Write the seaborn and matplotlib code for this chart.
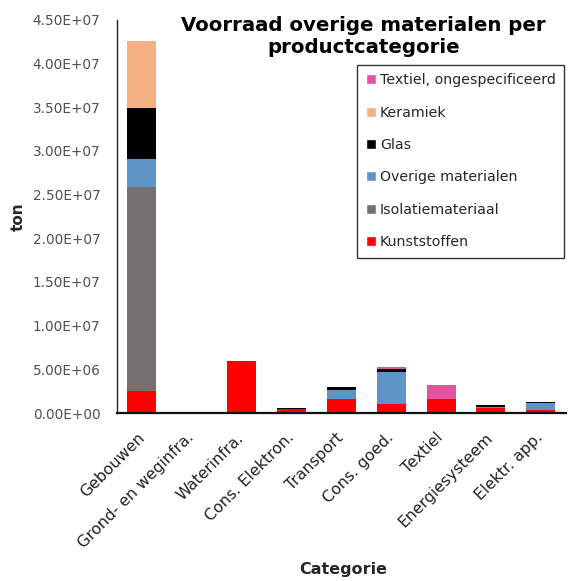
import numpy as np
import pandas as pd
import seaborn as sns
import matplotlib.pyplot as plt
from matplotlib.patches import Patch
from matplotlib.ticker import FuncFormatter

categories = ["Gebouwen", "Grond- en weginfra.", "Waterinfra.", "Cons. Elektron.",
              "Transport", "Cons. goed.", "Textiel", "Energiesysteem", "Elektr. app."]

# stacked layers, bottom to top (ton)
kunststoffen = [2.52e6, 0.0, 5.95e6, 0.45e6, 1.60e6, 1.03e6, 1.56e6, 0.62e6, 0.30e6]
isolatie = [2.34e7, 0.0, 0.0, 0.0, 0.0, 0.0, 0.0, 0.0, 0.0]
overige = [3.2e6, 0.18e6, 0.0, 0.0, 1.07e6, 3.67e6, 0.0, 0.10e6, 0.90e6]
glas = [5.8e6, 0.0, 0.0, 0.10e6, 0.30e6, 0.34e6, 0.0, 0.15e6, 0.08e6]
keramiek = [7.6e6, 0.0, 0.0, 0.0, 0.0, 0.0, 0.0, 0.0, 0.0]
textiel = [0.0, 0.0, 0.0, 0.0, 0.0, 0.18e6, 1.68e6, 0.0, 0.0]

layer_names = ["Kunststoffen", "Isolatiemateriaal", "Overige materialen",
               "Glas", "Keramiek", "Textiel, ongespecificeerd"]
layer_values = [kunststoffen, isolatie, overige, glas, keramiek, textiel]
layer_colors = ["#FF0000", "#767171", "#5E95C9", "#000000", "#F4B183", "#E4539E"]

sns.set_style("white")
plt.rcParams['font.family'] = ['DejaVu Sans']

fig = plt.figure(figsize=(5.68, 5.81), dpi=100)
ax = fig.add_axes([0.206, 0.289, 0.79, 0.677])

# draw cumulative totals from the top layer down so each layer shows on top of the one below
cum = np.cumsum(np.array(layer_values), axis=0)
for i in range(len(layer_names) - 1, -1, -1):
    df = pd.DataFrame({"Categorie": categories, "ton": cum[i]})
    sns.barplot(data=df, x="Categorie", y="ton", color=layer_colors[i],
                saturation=1, width=0.58, linewidth=0, ax=ax)

ax.set_ylim(0, 4.5e7)
ax.set_xlim(-0.5, 8.5)
ax.set_yticks(np.arange(0, 4.51e7, 5e6))
ax.yaxis.set_major_formatter(FuncFormatter(lambda v, p: f"{v:.2E}"))
ax.yaxis.set_tick_params(labelsize=9.8, labelcolor='#505050', length=0, pad=12)
ax.xaxis.set_tick_params(labelsize=11.3, labelcolor='#222222', length=0, pad=16)
for lab in ax.get_xticklabels():
    lab.set_rotation(45)
    lab.set_ha('right')
    lab.set_va('center')
    lab.set_rotation_mode('anchor')

sns.despine(ax=ax, top=True, right=True)
ax.spines['left'].set_color('#222222')
ax.spines['left'].set_linewidth(1.0)
ax.spines['bottom'].set_color('#111111')
ax.spines['bottom'].set_linewidth(1.6)

ax.set_ylabel("ton", fontweight='bold', fontsize=11)
ax.yaxis.set_label_coords(-0.2025, 0.5)
ax.set_xlabel("Categorie", fontweight='bold', fontsize=11.5)
ax.xaxis.set_label_coords(0.505, -0.378)

ax.text(0.55, 1.01, "Voorraad overige materialen per\nproductcategorie", transform=ax.transAxes,
        ha='center', va='top', fontsize=14.2, fontweight='bold', color='black', linespacing=1.2)

handles = [Patch(facecolor=c, label=n) for n, c in zip(layer_names, layer_colors)][::-1]
leg = ax.legend(handles=handles, loc='upper right', bbox_to_anchor=(0.997, 0.886),
                borderaxespad=0, frameon=True, fancybox=False, edgecolor='black',
                fontsize=10.2, handlelength=0.7, handleheight=0.7, handletextpad=0.3,
                labelspacing=1.3, borderpad=0.6)
leg.get_frame().set_linewidth(1.0)

fig.savefig("out.png", dpi=100)
